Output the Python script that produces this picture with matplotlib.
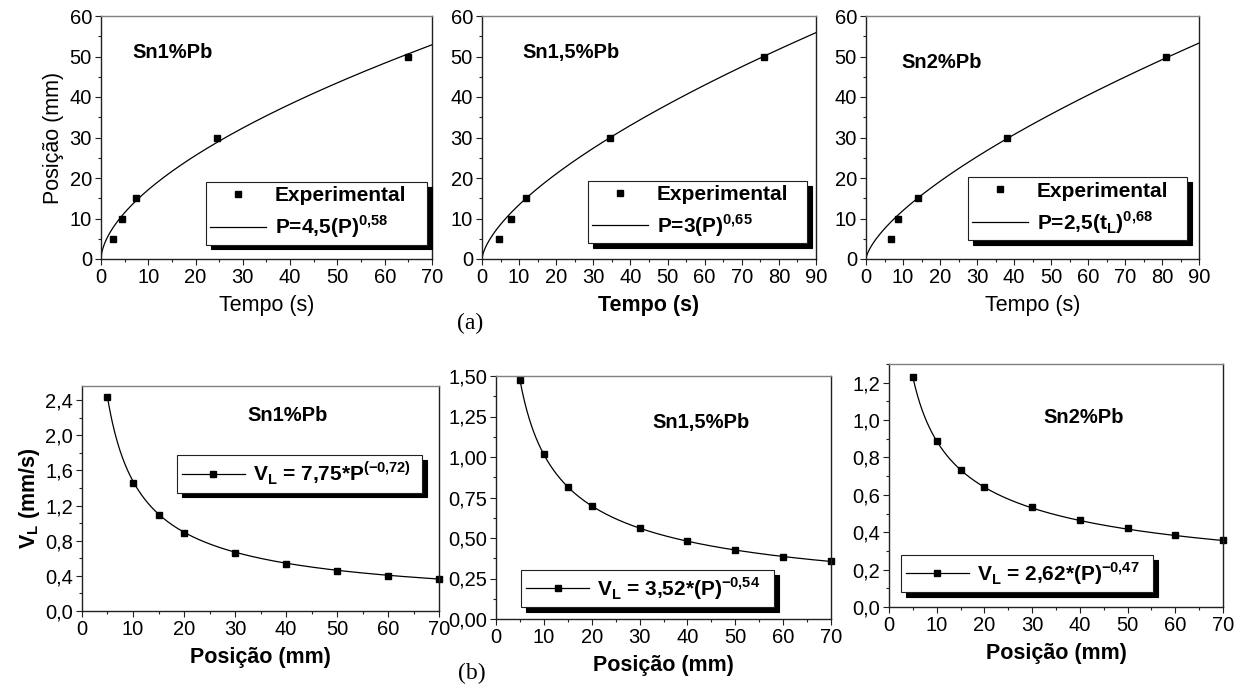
import matplotlib
matplotlib.use('Agg')

import numpy as np
import matplotlib.pyplot as plt
from matplotlib.lines import Line2D
from matplotlib.ticker import MultipleLocator, FuncFormatter

plt.rcParams['font.family'] = ['Liberation Sans', 'DejaVu Sans']
plt.rcParams['mathtext.fontset'] = 'custom'
plt.rcParams['mathtext.rm'] = 'Liberation Sans'
plt.rcParams['mathtext.bf'] = 'Liberation Sans:bold'

# ---- dados (a): posição x tempo ----
ligas = ['Sn1%Pb', 'Sn1,5%Pb', 'Sn2%Pb']
tempo_a = [
    [2.5, 4.5, 7.5, 24.5, 65.0],
    [4.5, 7.8, 11.9, 34.4, 76.1],
    [6.8, 8.6, 14.0, 38.0, 81.1],
]
posicao_a = [5, 10, 15, 30, 50]
coef_a = [4.5, 3.0, 2.5]
expo_a = [0.58, 0.65, 0.68]
xmax_a = [70, 90, 90]
rotulos_fit_a = [
    r'P=4,5(P)$^{\mathbf{0{,}58}}$',
    r'P=3(P)$^{\mathbf{0{,}65}}$',
    r'P=2,5(t$_{\mathbf{L}}$)$^{\mathbf{0{,}68}}$',
]

# ---- dados (b): velocidade x posição ----
posicao_b = [5, 10, 15, 20, 30, 40, 50, 60, 70]
vel_b = [
    [2.44, 1.46, 1.09, 0.89, 0.665, 0.53, 0.46, 0.40, 0.365],
    [1.475, 1.016, 0.817, 0.698, 0.562, 0.480, 0.425, 0.384, 0.355],
    [1.230, 0.890, 0.735, 0.644, 0.534, 0.465, 0.420, 0.385, 0.361],
]
coef_b = [7.75, 3.52, 2.62]
expo_b = [-0.72, -0.54, -0.47]
ymax_b = [2.56, 1.5, 1.3]
ymaj_b = [0.4, 0.25, 0.2]
ymin_b = [0.2, 0.125, 0.1]
fmt_b = ['{:.1f}', '{:.2f}', '{:.1f}']
rotulos_fit_b = [
    r'V$_{\mathbf{L}}$ = 7,75*P$^{\mathbf{(-0{,}72)}}$',
    r'V$_{\mathbf{L}}$ = 3,52*(P)$^{\mathbf{-0{,}54}}$',
    r'V$_{\mathbf{L}}$ = 2,62*(P)$^{\mathbf{-0{,}47}}$',
]

W, H = 1244, 694
fig = plt.figure(figsize=(W / 100, H / 100), dpi=100)


def eixo_px(x0, x1, y0, y1):
    return fig.add_axes([x0 / W, 1 - y1 / H, (x1 - x0) / W, (y1 - y0) / H])


def estilo(ax):
    ax.spines['top'].set_color('#808080')
    for s in ['left', 'bottom', 'right']:
        ax.spines[s].set_color('#202020')
    for s in ax.spines.values():
        s.set_linewidth(1.0)
    ax.tick_params(which='both', direction='out', top=False, right=False,
                   labelsize=14.5, pad=2, width=0.8, color='#202020')
    ax.tick_params(which='major', length=4.5)
    ax.tick_params(which='minor', length=2.5)


sombra = {'ox': 3.5, 'oy': -3.5, 'facecolor': 'black', 'edgecolor': 'black', 'alpha': 1}

# ---------- linha (a) ----------
caixas_a = [(101, 432), (482, 816), (866, 1199)]
leg_a = [(0.317, 0.033, 0.668, 0.309), (0.317, 0.037, 0.656, 0.313), (0.306, 0.053, 0.658, 0.309)]
txt_a = [(6.6, 51.1), (11.0, 51.1), (9.5, 48.6)]
for i in range(3):
    ax = eixo_px(caixas_a[i][0], caixas_a[i][1], 16, 259)
    estilo(ax)
    t = np.linspace(0, xmax_a[i], 400)
    ax.plot(t, coef_a[i] * t ** expo_a[i], color='black', lw=0.9)
    ax.plot(tempo_a[i], posicao_a, 's', color='black', ms=4.5, ls='none')
    ax.set_xlim(0, xmax_a[i])
    ax.set_ylim(0, 60)
    ax.xaxis.set_major_locator(MultipleLocator(10))
    ax.xaxis.set_minor_locator(MultipleLocator(5))
    ax.yaxis.set_major_locator(MultipleLocator(10))
    ax.yaxis.set_minor_locator(MultipleLocator(5))
    peso = 'bold' if i == 1 else 'normal'
    ax.set_xlabel('Tempo (s)', fontsize=15.5, fontweight=peso, labelpad=6)
    if i == 0:
        ax.set_ylabel('Posição (mm)', fontsize=15.5, labelpad=4)
    ax.text(txt_a[i][0], txt_a[i][1], ligas[i], fontsize=14.5, fontweight='bold',
            ha='left', va='center')
    handles = [Line2D([], [], marker='s', color='black', ls='none', ms=4.5),
               Line2D([], [], color='black', lw=0.9)]
    leg = ax.legend(handles, ['Experimental', rotulos_fit_a[i]], loc='center',
                    bbox_to_anchor=leg_a[i], mode='expand', borderaxespad=0,
                    prop={'weight': 'bold', 'size': 15}, fancybox=False,
                    framealpha=1, edgecolor='#202020', shadow=sombra,
                    handlelength=2.7, handletextpad=0.4, borderpad=0.2,
                    labelspacing=0.4)
    leg.get_frame().set_linewidth(0.8)

fig.text(470 / W, 1 - 323 / H, '(a)', fontsize=17, family='Liberation Serif',
         ha='center', va='center')

# ---------- linha (b) ----------
caixas_b = [(82, 439, 386, 611), (496, 831, 376, 619), (889, 1223, 364, 607)]
leg_b = [(0.266, 0.524, 0.686, 0.173), (0.075, 0.045, 0.755, 0.16), (0.036, 0.058, 0.754, 0.16)]
txt_b = [(32.5, 2.23), (32.6, 1.21), (32.3, 1.016)]
for i in range(3):
    x0, x1, y0, y1 = caixas_b[i]
    ax = eixo_px(x0, x1, y0, y1)
    estilo(ax)
    p = np.linspace(posicao_b[0], posicao_b[-1], 400)
    ax.plot(p, coef_b[i] * p ** expo_b[i], color='black', lw=0.9)
    ax.plot(posicao_b, vel_b[i], 's', color='black', ms=4.5, ls='none', clip_on=False)
    ax.set_xlim(0, 70)
    ax.set_ylim(0, ymax_b[i])
    ax.xaxis.set_major_locator(MultipleLocator(10))
    ax.xaxis.set_minor_locator(MultipleLocator(5))
    ax.yaxis.set_major_locator(MultipleLocator(ymaj_b[i]))
    ax.yaxis.set_minor_locator(MultipleLocator(ymin_b[i]))
    f = fmt_b[i]
    ax.yaxis.set_major_formatter(FuncFormatter(lambda v, pos, f=f: f.format(v).replace('.', ',')))
    ax.set_xlabel('Posição (mm)', fontsize=15.5, fontweight='bold', labelpad=6)
    if i == 0:
        ax.set_ylabel(r'V$_{\mathbf{L}}$ (mm/s)', fontsize=15.5, fontweight='bold', labelpad=2)
    ax.text(txt_b[i][0], txt_b[i][1], ligas[i], fontsize=14.5, fontweight='bold',
            ha='left', va='center')
    handles = [Line2D([], [], marker='s', color='black', lw=0.9, ms=4.5)]
    leg = ax.legend(handles, [rotulos_fit_b[i]], loc='center',
                    bbox_to_anchor=leg_b[i], mode='expand', borderaxespad=0,
                    prop={'weight': 'bold', 'size': 15}, fancybox=False,
                    framealpha=1, edgecolor='#202020', shadow=sombra,
                    handlelength=3.0, handletextpad=0.4, borderpad=0.25)
    leg.get_frame().set_linewidth(0.8)

fig.text(472 / W, 1 - 673 / H, '(b)', fontsize=17, family='Liberation Serif',
         ha='center', va='center')

fig.savefig('out.png', dpi=100)
